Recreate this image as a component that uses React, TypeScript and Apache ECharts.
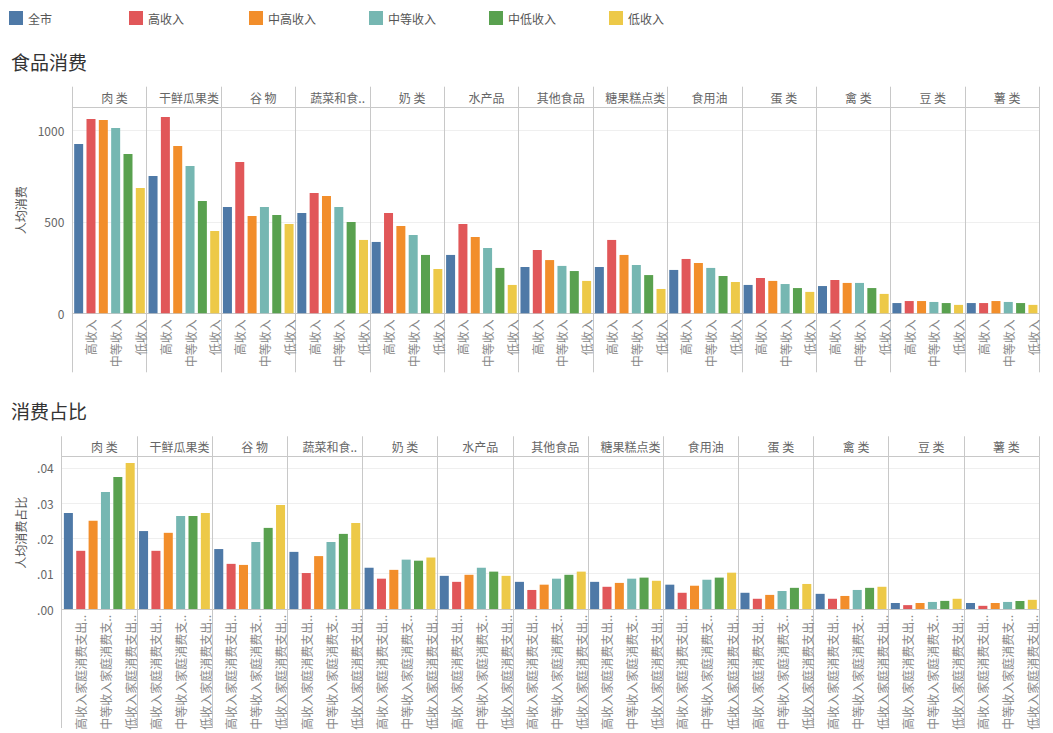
import React, { useEffect, useRef } from "react";
import * as echarts from "echarts";

const CATEGORIES = ["肉 类", "干鲜瓜果类", "谷 物", "蔬菜和食用菌", "奶 类", "水产品", "其他食品", "糖果糕点类", "食用油", "蛋 类", "禽 类", "豆 类", "薯 类"];
const GROUPS = ["全市", "高收入", "中高收入", "中等收入", "中低收入", "低收入"];
const SHARE_LABELS = ["全市家庭消费支出占比", "高收入家庭消费支出占比", "中高收入家庭消费支出占比", "中等收入家庭消费支出占比", "中低收入家庭消费支出占比", "低收入家庭消费支出占比"];

// 人均消费
const spendAll = [925, 750, 581, 548, 390, 319, 253, 253, 237, 155, 149, 56, 56];
const spendHigh = [1062, 1073, 827, 658, 548, 488, 346, 401, 297, 193, 182, 67, 56];
const spendUpperMid = [1056, 914, 532, 641, 477, 417, 291, 319, 275, 177, 166, 67, 67];
const spendMid = [1013, 805, 581, 581, 428, 357, 259, 264, 248, 160, 166, 62, 62];
const spendLowerMid = [871, 614, 537, 499, 319, 248, 231, 209, 204, 138, 138, 56, 56];
const spendLow = [685, 450, 488, 401, 242, 155, 177, 133, 171, 117, 106, 46, 46];

// 人均消费占比
const shareAll = [0.0272, 0.0221, 0.017, 0.0162, 0.0117, 0.0094, 0.0077, 0.0077, 0.0069, 0.0046, 0.0043, 0.0017, 0.0017];
const shareHigh = [0.0165, 0.0165, 0.0128, 0.0102, 0.0086, 0.0077, 0.0054, 0.0063, 0.0046, 0.0029, 0.0029, 0.0011, 0.0009];
const shareUpperMid = [0.025, 0.0216, 0.0125, 0.015, 0.0111, 0.0097, 0.0069, 0.0074, 0.0066, 0.004, 0.0037, 0.0017, 0.0017];
const shareMid = [0.0332, 0.0264, 0.019, 0.019, 0.014, 0.0117, 0.0086, 0.0086, 0.0083, 0.0051, 0.0054, 0.002, 0.002];
const shareLowerMid = [0.0374, 0.0264, 0.023, 0.0213, 0.0137, 0.0106, 0.0097, 0.0089, 0.0089, 0.006, 0.006, 0.0023, 0.0023];
const shareLow = [0.0414, 0.0272, 0.0295, 0.0244, 0.0146, 0.0094, 0.0106, 0.008, 0.0103, 0.0071, 0.0063, 0.0029, 0.0026];

const SPEND = [spendAll, spendHigh, spendUpperMid, spendMid, spendLowerMid, spendLow];
const SHARE = [shareAll, shareHigh, shareUpperMid, shareMid, shareLowerMid, shareLow];

const COLORS = ["#4e79a7", "#e15759", "#f28e2b", "#76b7b2", "#59a14f", "#edc948"];

const FONT = "'Noto Sans CJK SC', 'Noto Sans', sans-serif";
const LINE = "#c8c8c8";

function buildOption() {
  const panels = [
    {
      grid: { left: 72.3, top: 107.3, width: 967, height: 206 },
      lowerTick: 59,
      headerTick: 20.6,
      subLabels: CATEGORIES.flatMap(() => GROUPS),
      data: SPEND,
      yMax: 1126,
      yInterval: 500,
      yName: "人均消费",
      nameGap: 44,
      fmt: (v: number) => String(v),
      barWidth: "12.1%",
    },
    {
      grid: { left: 61.7, top: 456.3, width: 977.3, height: 152.7 },
      lowerTick: 119,
      headerTick: 20,
      subLabels: CATEGORIES.flatMap(() => SHARE_LABELS),
      data: SHARE,
      yMax: 0.0433,
      yInterval: 0.01,
      yName: "人均消费占比",
      nameGap: 34,
      fmt: (v: number) => v.toFixed(2).replace(/^0/, ""),
      barWidth: "12%",
    },
  ];

  const grid: any[] = [];
  const xAxis: any[] = [];
  const yAxis: any[] = [];
  const series: any[] = [];

  panels.forEach((p, pi) => {
    grid.push(p.grid);
    xAxis.push({
      type: "category",
      gridIndex: pi,
      data: CATEGORIES,
      position: "bottom",
      axisLine: { show: true, lineStyle: { color: LINE, width: 1 } },
      axisTick: { show: true, interval: 0, length: p.lowerTick, lineStyle: { color: LINE } },
      axisLabel: { show: false },
      splitLine: { show: true, interval: 0, lineStyle: { color: LINE, width: 1 } },
    });
    xAxis.push({
      type: "category",
      gridIndex: pi,
      data: CATEGORIES,
      position: "top",
      axisLine: { show: true, lineStyle: { color: LINE, width: 1 } },
      axisTick: { show: true, interval: 0, length: p.headerTick, lineStyle: { color: LINE } },
      axisLabel: {
        interval: 0,
        margin: 4,
        color: "#666",
        fontSize: 12,
        fontFamily: FONT,
        width: 66,
        overflow: "truncate",
        ellipsis: "..",
        padding: [0, 0, 0, 10],
      },
      splitLine: { show: false },
    });
    xAxis.push({
      type: "category",
      gridIndex: pi,
      data: p.subLabels,
      position: "bottom",
      axisLine: { show: false },
      axisTick: { show: false },
      splitLine: { show: false },
      axisLabel: {
        interval: (i: number) => i % 2 === 1,
        rotate: 90,
        margin: 6,
        color: "#888",
        fontSize: 12,
        fontFamily: FONT,
        width: 117,
        overflow: "truncate",
        ellipsis: "..",
      },
    });
    yAxis.push({
      type: "value",
      gridIndex: pi,
      min: 0,
      max: p.yMax,
      interval: p.yInterval,
      axisLine: { show: false },
      axisTick: { show: false },
      axisLabel: {
        color: "#666",
        fontSize: 12,
        fontFamily: FONT,
        margin: 8,
        showMaxLabel: false,
        formatter: p.fmt,
      },
      splitLine: { show: true, lineStyle: { color: "#efefef", width: 1 } },
      name: p.yName,
      nameLocation: "middle",
      nameGap: p.nameGap,
      nameTextStyle: { color: "#555", fontSize: 12, fontFamily: FONT },
    });
    GROUPS.forEach((g, gi) => {
      series.push({
        type: "bar",
        name: g,
        xAxisIndex: pi * 3,
        yAxisIndex: pi,
        data: p.data[gi],
        barWidth: p.barWidth,
        barGap: "37%",
        itemStyle: { color: COLORS[gi] },
      });
    });
  });

  const legend = GROUPS.map((g, gi) => ({
    data: [g],
    left: 9 + gi * 120,
    top: 11,
    padding: 0,
    itemWidth: 14,
    itemHeight: 14,
    icon: "rect",
    selectedMode: false,
    textStyle: { color: "#555", fontSize: 12, fontFamily: FONT },
  }));

  return {
    animation: false,
    backgroundColor: "#ffffff",
    textStyle: { fontFamily: FONT },
    title: [
      { text: "食品消费", left: 11, top: 52, padding: 0, textStyle: { fontSize: 19, fontWeight: "normal", color: "#333", fontFamily: FONT } },
      { text: "消费占比", left: 11, top: 401, padding: 0, textStyle: { fontSize: 19, fontWeight: "normal", color: "#333", fontFamily: FONT } },
    ],
    legend,
    grid,
    xAxis,
    yAxis,
    series,
  };
}

export default function App() {
  const ref = useRef<HTMLDivElement>(null);
  useEffect(() => {
    if (!ref.current) return;
    const chart = echarts.init(ref.current, null, { renderer: "svg" });
    chart.setOption(buildOption() as any);
    return () => chart.dispose();
  }, []);
  return <div ref={ref} style={{ position: "fixed", left: 0, top: 0, width: 1053, height: 733 }} />;
}
